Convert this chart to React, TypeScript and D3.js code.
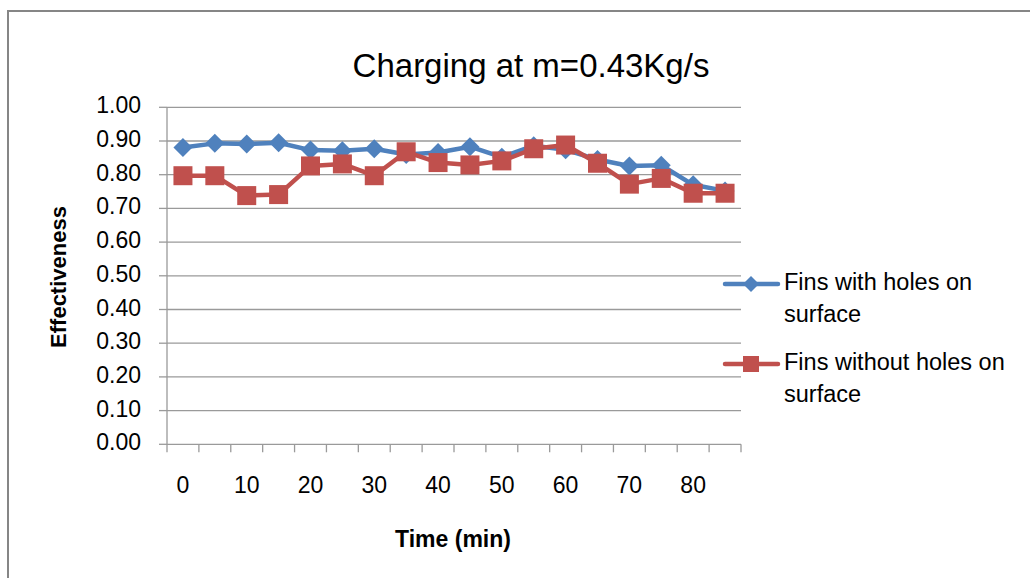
import React, { useEffect, useRef } from "react";
import * as d3 from "d3";

const categories: number[] = [0, 5, 10, 15, 20, 25, 30, 35, 40, 45, 50, 55, 60, 65, 70, 75, 80, 85];
const withHoles: number[] = [0.881, 0.893, 0.891, 0.895, 0.873, 0.871, 0.877, 0.860, 0.866, 0.883, 0.852, 0.886, 0.874, 0.845, 0.826, 0.828, 0.770, 0.752];
const withoutHoles: number[] = [0.797, 0.797, 0.738, 0.741, 0.826, 0.832, 0.797, 0.868, 0.836, 0.829, 0.841, 0.877, 0.888, 0.834, 0.772, 0.789, 0.745, 0.745];
const yTicks: number[] = [0, 0.1, 0.2, 0.3, 0.4, 0.5, 0.6, 0.7, 0.8, 0.9, 1.0];
const xLabelCats: number[] = [0, 10, 20, 30, 40, 50, 60, 70, 80];
const title = "Charging at m=0.43Kg/s";
const seriesNames = ["Fins with holes on|surface", "Fins without holes on|surface"];

const FONT = "'Liberation Sans', Arial, sans-serif";
const BLUE = "#4F81BD";
const RED = "#C0504D";
const GRID = "#9a9a9a";

export default function App() {
  const ref = useRef<SVGSVGElement | null>(null);

  useEffect(() => {
    const svg = d3.select(ref.current);
    svg.selectAll("*").remove();

    const left = 167, right = 741, top = 107.3, bottom = 444.3;

    const x = d3.scaleBand<number>().domain(categories).range([left, right]).padding(0);
    const y = d3.scaleLinear().domain([0, 1]).range([bottom, top]);
    const cx = (c: number) => (x(c) as number) + x.bandwidth() / 2;

    // chart border
    svg.append("rect").attr("x", 8).attr("y", 11).attr("width", 1200).attr("height", 800)
      .attr("fill", "none").attr("stroke", "#868686").attr("stroke-width", 2);

    // title
    svg.append("text").attr("x", 531).attr("y", 68).attr("text-anchor", "middle")
      .attr("dominant-baseline", "middle").attr("font-family", FONT).attr("font-size", 33)
      .attr("fill", "#000").text(title);

    // gridlines
    yTicks.forEach((t) => {
      if (t > 0) {
        svg.append("line").attr("x1", left).attr("x2", right).attr("y1", y(t)).attr("y2", y(t))
          .attr("stroke", GRID).attr("stroke-width", 1.3);
      }
      svg.append("line").attr("x1", left - 8).attr("x2", left).attr("y1", y(t)).attr("y2", y(t))
        .attr("stroke", GRID).attr("stroke-width", 1.3);
      svg.append("text").attr("x", 141).attr("y", y(t)).attr("text-anchor", "end")
        .attr("dominant-baseline", "middle").attr("font-family", FONT).attr("font-size", 23)
        .attr("fill", "#000").text(t.toFixed(2));
    });

    // axes lines
    svg.append("line").attr("x1", left).attr("x2", left).attr("y1", top).attr("y2", bottom)
      .attr("stroke", GRID).attr("stroke-width", 1.3);
    svg.append("line").attr("x1", left).attr("x2", right).attr("y1", bottom).attr("y2", bottom)
      .attr("stroke", GRID).attr("stroke-width", 1.3);
    for (let i = 0; i <= categories.length; i++) {
      const xx = left + i * x.bandwidth();
      svg.append("line").attr("x1", xx).attr("x2", xx).attr("y1", bottom).attr("y2", bottom + 8)
        .attr("stroke", GRID).attr("stroke-width", 1.3);
    }
    xLabelCats.forEach((c) => {
      svg.append("text").attr("x", cx(c)).attr("y", 487).attr("text-anchor", "middle")
        .attr("dominant-baseline", "middle").attr("font-family", FONT).attr("font-size", 23)
        .attr("fill", "#000").text(String(c));
    });

    // axis titles
    svg.append("text").attr("x", 453).attr("y", 541).attr("text-anchor", "middle")
      .attr("dominant-baseline", "middle").attr("font-family", FONT).attr("font-size", 23)
      .attr("font-weight", "bold").attr("fill", "#000").text("Time (min)");
    svg.append("text").attr("transform", "translate(60,277) rotate(-90)").attr("text-anchor", "middle")
      .attr("dominant-baseline", "middle").attr("font-family", FONT).attr("font-size", 22)
      .attr("font-weight", "bold").attr("fill", "#000").text("Effectiveness");

    const line = d3.line<number>().x((_, i) => cx(categories[i])).y((d) => y(d));
    const diamond = (px: number, py: number, r: number) =>
      `M${px},${py - r}L${px + r},${py}L${px},${py + r}L${px - r},${py}Z`;

    // blue series
    svg.append("path").attr("d", line(withHoles) as string).attr("fill", "none")
      .attr("stroke", BLUE).attr("stroke-width", 4.5).attr("stroke-linejoin", "round");
    withHoles.forEach((v, i) => {
      svg.append("path").attr("d", diamond(cx(categories[i]), y(v), 9.5)).attr("fill", BLUE);
    });

    // red series
    svg.append("path").attr("d", line(withoutHoles) as string).attr("fill", "none")
      .attr("stroke", RED).attr("stroke-width", 4.5).attr("stroke-linejoin", "round");
    withoutHoles.forEach((v, i) => {
      svg.append("rect").attr("x", cx(categories[i]) - 9.5).attr("y", y(v) - 9.5)
        .attr("width", 19).attr("height", 19).attr("fill", RED);
    });

    // legend
    const legendItems = [
      { name: seriesNames[0], color: BLUE, y: 284, shape: "diamond" },
      { name: seriesNames[1], color: RED, y: 364, shape: "square" },
    ];
    legendItems.forEach((it) => {
      svg.append("line").attr("x1", 725).attr("x2", 778).attr("y1", it.y).attr("y2", it.y)
        .attr("stroke", it.color).attr("stroke-width", 4.5).attr("stroke-linecap", "round");
      if (it.shape === "diamond") {
        svg.append("path").attr("d", diamond(751, it.y, 8)).attr("fill", it.color);
      } else {
        svg.append("rect").attr("x", 751 - 8).attr("y", it.y - 8).attr("width", 16).attr("height", 16)
          .attr("fill", it.color);
      }
      const parts = it.name.split("|");
      parts.forEach((p, k) => {
        svg.append("text").attr("x", 784).attr("y", it.y + k * 32).attr("dominant-baseline", "middle")
          .attr("font-family", FONT).attr("font-size", 23.5).attr("fill", "#000").text(p);
      });
    });
  }, []);

  return (
    <svg ref={ref} width={1030} height={578}
      style={{ position: "absolute", left: 0, top: 0, background: "#fff" }} />
  );
}
